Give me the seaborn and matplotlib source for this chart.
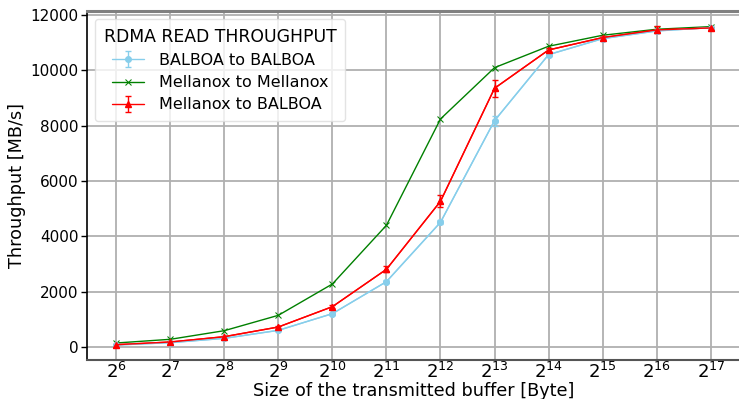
import matplotlib
matplotlib.use("Agg")
import matplotlib.pyplot as plt
import seaborn as sns
import pandas as pd
import numpy as np

exponents = [6, 7, 8, 9, 10, 11, 12, 13, 14, 15, 16, 17]
balboa_balboa = [72, 157, 313, 602, 1205, 2361, 4507, 8180, 10564, 11142, 11420, 11540]
balboa_balboa_err = [20, 20, 25, 30, 40, 60, 80, 180, 60, 50, 60, 40]
mellanox_mellanox = [145, 278, 590, 1145, 2277, 4398, 8240, 10094, 10867, 11264, 11481, 11576]
mellanox_balboa = [83, 181, 373, 723, 1457, 2807, 5265, 9349, 10733, 11180, 11457, 11529]
mellanox_balboa_err = [30, 30, 40, 50, 60, 110, 217, 300, 70, 60, 125, 50]
series_names = ["BALBOA to BALBOA", "Mellanox to Mellanox", "Mellanox to BALBOA"]
legend_title = "RDMA READ THROUGHPUT"

sizes = [2 ** e for e in exponents]
df = pd.DataFrame({
    "size": sizes * 3,
    "throughput": balboa_balboa + mellanox_mellanox + mellanox_balboa,
    "series": [series_names[0]] * 12 + [series_names[1]] * 12 + [series_names[2]] * 12,
})

sns.set_style("white")
plt.rcParams["font.family"] = ["DejaVu Sans"]
plt.rcParams["text.color"] = "black"
plt.rcParams["axes.labelcolor"] = "black"
plt.rcParams["xtick.color"] = "black"
plt.rcParams["ytick.color"] = "black"

fig = plt.figure(figsize=(7.39, 3.99), dpi=100)
ax = fig.add_axes([0.1177, 0.0977, 0.8836, 0.8747])

colors = {series_names[0]: "skyblue", series_names[1]: "green", series_names[2]: "red"}
markers = {series_names[0]: "o", series_names[1]: "x", series_names[2]: "^"}

handles = []
for name, errs in [(series_names[0], balboa_balboa_err), (series_names[1], None),
                   (series_names[2], mellanox_balboa_err)]:
    sub = df[df["series"] == name]
    sns.lineplot(data=sub, x="size", y="throughput", color=colors[name],
                 marker=markers[name], markersize=4, linewidth=1,
                 markeredgecolor=colors[name], ax=ax, legend=False)
    if errs is not None:
        h = ax.errorbar(sub["size"], sub["throughput"], yerr=errs, color=colors[name],
                        marker=markers[name], markersize=4, linewidth=1, capsize=2)
    else:
        h = ax.lines[-1]
    handles.append(h)

ax.set_xscale("log", base=2)
ax.set_xticks(sizes)
ax.set_xticklabels([f"$2^{{{e}}}$" for e in exponents])
ax.minorticks_off()
ax.set_xlim(2 ** 5.46, 2 ** 17.54)
ax.set_ylim(-470, 12140)
ax.set_yticks([0, 2000, 4000, 6000, 8000, 10000, 12000])

ax.grid(True, color="#b0b0b0", linewidth=1.3)
ax.tick_params(axis="y", labelsize=11, left=True, length=4, width=1, color="black", pad=2)
ax.tick_params(axis="x", labelsize=13, bottom=False, length=0, pad=1.5)

ax.set_xlabel("Size of the transmitted buffer [Byte]", fontsize=12.7, labelpad=0)
ax.set_ylabel("Throughput [MB/s]", fontsize=12.7, labelpad=3)

ax.spines["left"].set_color("black")
ax.spines["left"].set_linewidth(1.2)
ax.spines["bottom"].set_color("#555555")
ax.spines["bottom"].set_linewidth(1.5)
ax.spines["top"].set_color("#808080")
ax.spines["top"].set_linewidth(2.2)
ax.spines["right"].set_visible(False)

leg = ax.legend(handles=handles, labels=series_names, title=legend_title,
                loc="upper left", fontsize=11.5, title_fontsize=12.4, frameon=True,
                fancybox=True, framealpha=0.8, edgecolor="#dddddd",
                borderpad=0.55, handletextpad=0.9, labelspacing=0.45)

fig.savefig("out.png", dpi=100)
